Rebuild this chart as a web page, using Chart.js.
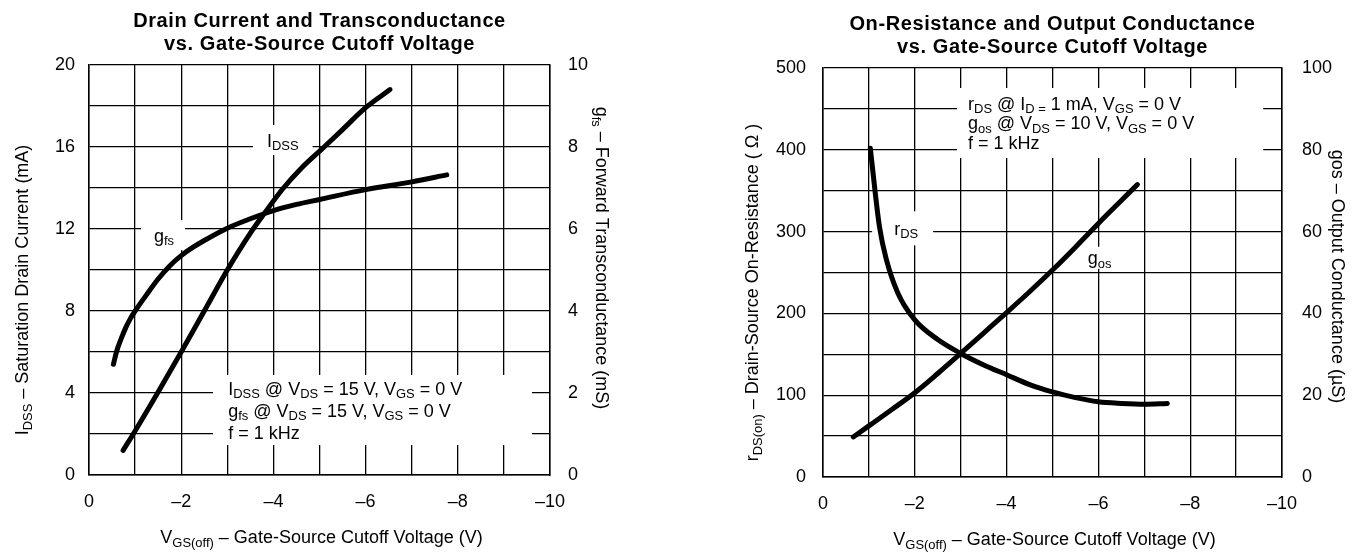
<!DOCTYPE html>
<html>
<head>
<meta charset="utf-8">
<script src="https://cdn.jsdelivr.net/npm/chart.js@4.4.1/dist/chart.umd.min.js"></script>
<style>
  body { margin: 0; background: #fff; }
  .wrap { position: absolute; top: 0; width: 680px; height: 552px; }
</style>
</head>
<body>
<div class="wrap" style="left:0"><canvas id="leftChart" width="680" height="552"></canvas></div>
<div class="wrap" style="left:680px"><canvas id="rightChart" width="680" height="552"></canvas></div>
<script>
// --- data ---
// left: saturation drain current (mA) and forward transconductance (mS)
const idssVolts = [-0.74, -1.0, -1.5, -2.0, -2.5, -3.0, -3.5, -3.8, -4.2, -4.6, -5.1, -5.5, -6.0, -6.53];
const idssMilliamps = [1.2, 2.15, 4.05, 6.0, 8.0, 10.0, 11.8, 12.75, 13.95, 14.95, 16.0, 16.85, 17.92, 18.8];
const gfsVolts = [-0.53, -0.6, -0.7, -0.8, -0.9, -1.0, -1.25, -1.5, -1.75, -2.0, -2.25, -2.5, -3.0, -3.5, -4.0, -4.5, -5.0, -6.0, -7.0, -7.76];
const gfsMillisiemens = [2.7, 3.02, 3.33, 3.6, 3.82, 4.0, 4.4, 4.78, 5.1, 5.35, 5.55, 5.72, 6.02, 6.25, 6.45, 6.6, 6.72, 6.96, 7.15, 7.32];

// right: on-resistance (ohm) and output conductance (uS)
const rdsVolts = [-1.03, -1.23, -1.38, -1.63, -2.0, -2.5, -3.0, -3.5, -4.0, -4.5, -5.0, -5.5, -6.0, -6.5, -7.0, -7.5];
const rdsOhms = [402, 306, 266, 225, 192, 168, 151, 137, 125, 113, 104, 97, 92, 90, 89, 90];
const gosVolts = [-0.66, -1.0, -1.5, -2.0, -2.5, -3.0, -3.5, -4.0, -4.5, -5.0, -5.5, -6.0, -6.5, -6.85];
const gosMicrosiemens = [9.8, 12.5, 16.5, 20.6, 25.3, 30.2, 35.2, 40.2, 45.3, 50.6, 56.2, 62.0, 67.6, 71.5];

// labelled ticks
const voltTicks = [0, -2, -4, -6, -8, -10];
const idssTicks = [0, 4, 8, 12, 16, 20];
const gfsTicks = [0, 2, 4, 6, 8, 10];
const rdsTicks = [0, 100, 200, 300, 400, 500];
const gosTicks = [0, 20, 40, 60, 80, 100];

const FONT = '"Liberation Sans", Arial, Helvetica, sans-serif';
const SIZE = 18;
Chart.defaults.font.family = FONT;
Chart.defaults.font.size = SIZE;
Chart.defaults.color = '#000';

// split "I_{DSS} @ V_{DS}" into [text, isSub] pieces
function pieces(str) {
  const out = [];
  str.split(/(_\{[^}]*\})/).forEach(p => {
    if (!p) return;
    if (p.startsWith('_{')) out.push([p.slice(2, -1), true]);
    else out.push([p, false]);
  });
  return out;
}

function richWidth(ctx, str, size, weight) {
  let w = 0;
  pieces(str).forEach(([t, sub]) => {
    ctx.font = `${weight || 'normal'} ${sub ? size * 0.72 : size}px ${FONT}`;
    w += ctx.measureText(t).width;
  });
  return w;
}

// y is the vertical middle of the line
function drawRich(ctx, str, x, y, size, align, weight) {
  const total = richWidth(ctx, str, size, weight);
  let cx = align === 'center' ? x - total / 2 : x;
  const base = y + size * 0.36;
  ctx.textAlign = 'left';
  ctx.textBaseline = 'alphabetic';
  pieces(str).forEach(([t, sub]) => {
    ctx.font = `${weight || 'normal'} ${sub ? size * 0.72 : size}px ${FONT}`;
    ctx.fillText(t, cx, sub ? base + size * 0.2 : base);
    cx += ctx.measureText(t).width;
  });
}

const sheetText = {
  id: 'sheetText',
  beforeDatasetsDraw(chart, args, opts) {
    const { ctx, scales } = chart;
    const xs = scales.x, ys = scales.y;
    ctx.save();
    // curve labels sit on white boxes that break the grid
    opts.labels.forEach(l => {
      const px = xs.getPixelForValue(l.x), py = ys.getPixelForValue(l.y);
      const w = richWidth(ctx, l.text, SIZE);
      ctx.fillStyle = '#fff';
      ctx.fillRect(px - l.padL, py - l.padY, w + l.padL + l.padR, l.padY * 2);
      ctx.fillStyle = '#000';
      drawRich(ctx, l.text, px, py, SIZE, 'left');
    });
    // conditions note
    const n = opts.note;
    const x0 = xs.getPixelForValue(n.x0), x1 = xs.getPixelForValue(n.x1);
    const y0 = ys.getPixelForValue(n.y0), y1 = ys.getPixelForValue(n.y1);
    ctx.fillStyle = '#fff';
    ctx.fillRect(x0, y0, x1 - x0, y1 - y0);
    ctx.fillStyle = '#000';
    const tx = xs.getPixelForValue(n.textX);
    const ty = ys.getPixelForValue(n.textY);
    n.lines.forEach((line, i) => drawRich(ctx, line, tx, ty + i * n.gap, SIZE, 'left'));
    ctx.restore();
  },
  afterDraw(chart, args, opts) {
    const { ctx, chartArea: a } = chart;
    const midX = (a.left + a.right) / 2;
    const midY = (a.top + a.bottom) / 2;
    ctx.save();
    ctx.fillStyle = '#000';
    // chart title
    if ('letterSpacing' in ctx) ctx.letterSpacing = '0.6px';
    opts.title.forEach((line, i) => drawRich(ctx, line, midX, a.top - 45 + i * 23, 20, 'center', 'bold'));
    if ('letterSpacing' in ctx) ctx.letterSpacing = '0px';
    // x title
    drawRich(ctx, opts.xTitle, midX + 2, a.bottom + 62, SIZE, 'center');
    // left y title
    ctx.save();
    ctx.translate(a.left + opts.yTitle.dx, midY + opts.yTitle.dy);
    ctx.rotate(-Math.PI / 2);
    drawRich(ctx, opts.yTitle.text, 0, 0, SIZE, 'center');
    ctx.restore();
    // right y title
    ctx.save();
    ctx.translate(a.right + opts.y2Title.dx, midY + opts.y2Title.dy);
    ctx.rotate(Math.PI / 2);
    drawRich(ctx, opts.y2Title.text, 0, 0, SIZE, 'center');
    ctx.restore();
    ctx.restore();
  },
};

function voltLabel(v) {
  if (!voltTicks.includes(v)) return '';
  return v === 0 ? '0' : '\u2013' + Math.abs(v);
}

function curve(label, xs, ys, axis) {
  return {
    label,
    data: xs.map((x, i) => ({ x, y: ys[i] })),
    yAxisID: axis,
    borderColor: '#000',
    borderWidth: 5,
    borderCapStyle: 'round',
    borderJoinStyle: 'round',
    pointRadius: 0,
    cubicInterpolationMode: 'monotone',
    fill: false,
  };
}

function makeChart(id, box, cfg) {
  const gridStyle = { color: '#000', lineWidth: 1.3, drawTicks: false };
  const borderStyle = { display: true, color: '#000', width: 1.5 };
  return new Chart(document.getElementById(id), {
    type: 'line',
    data: { datasets: cfg.datasets },
    options: {
      responsive: false,
      animation: false,
      events: [],
      layout: { padding: { top: box.top, left: 0, right: 0, bottom: 0 } },
      scales: {
        x: {
          type: 'linear',
          min: -10,
          max: 0,
          reverse: true,
          grid: gridStyle,
          border: borderStyle,
          ticks: { stepSize: 1, autoSkip: false, maxRotation: 0, padding: 16, callback: voltLabel },
          afterFit: s => { s.height = 552 - box.bottom; },
        },
        y: {
          position: 'left',
          min: 0,
          max: cfg.yMax,
          grid: gridStyle,
          border: borderStyle,
          ticks: { stepSize: cfg.yMax / 10, autoSkip: false, padding: box.padL,
            callback: v => (cfg.yTicks.includes(v) ? String(v) : '') },
          afterFit: s => { s.width = box.left; },
        },
        y2: {
          position: 'right',
          min: 0,
          max: cfg.y2Max,
          grid: { drawOnChartArea: false, drawTicks: false },
          border: borderStyle,
          ticks: { stepSize: cfg.y2Max / 10, autoSkip: false, padding: box.padR,
            callback: v => (cfg.y2Ticks.includes(v) ? String(v) : '') },
          afterFit: s => { s.width = 680 - box.right; },
        },
      },
      plugins: {
        legend: { display: false },
        tooltip: { enabled: false },
        sheetText: cfg.text,
      },
    },
    plugins: [sheetText],
  });
}

makeChart('leftChart', { top: 65, bottom: 475, left: 89, right: 550, padL: 14, padR: 18 }, {
  datasets: [
    curve('IDSS', idssVolts, idssMilliamps, 'y'),
    curve('gfs', gfsVolts, gfsMillisiemens, 'y2'),
  ],
  yMax: 20, yTicks: idssTicks,
  y2Max: 10, y2Ticks: gfsTicks,
  text: {
    title: ['Drain Current and Transconductance', 'vs. Gate-Source Cutoff Voltage'],
    xTitle: 'V_{GS(off)} \u2013 Gate-Source Cutoff Voltage (V)',
    yTitle: { text: 'I_{DSS} \u2013 Saturation Drain Current (mA)', dx: -67, dy: 20 },
    y2Title: { text: 'g_{fs} \u2013 Forward Transconductance (mS)', dx: 52, dy: -12 },
    labels: [
      { text: 'I_{DSS}', x: -3.86, y: 16.34, padL: 14, padR: 14, padY: 15 },
      { text: 'g_{fs}', x: -1.41, y: 11.7, padL: 13, padR: 11, padY: 15 },
    ],
    note: {
      x0: -2.69, x1: -9.61, y0: 4.88, y1: 1.46, textX: -3.02, textY: 4.24, gap: 22,
      lines: [
        'I_{DSS} @ V_{DS} = 15 V, V_{GS} = 0 V',
        'g_{fs} @ V_{DS} = 15 V, V_{GS} = 0 V',
        'f = 1 kHz',
      ],
    },
  },
});

makeChart('rightChart', { top: 68, bottom: 477, left: 143, right: 602, padL: 17, padR: 20 }, {
  datasets: [
    curve('rDS', rdsVolts, rdsOhms, 'y'),
    curve('gos', gosVolts, gosMicrosiemens, 'y2'),
  ],
  yMax: 500, yTicks: rdsTicks,
  y2Max: 100, y2Ticks: gosTicks,
  text: {
    title: ['On-Resistance and Output Conductance', 'vs. Gate-Source Cutoff Voltage'],
    xTitle: 'V_{GS(off)} \u2013 Gate-Source Cutoff Voltage (V)',
    yTitle: { text: 'r_{DS(on)} \u2013 Drain-Source On-Resistance ( \u03a9 )', dx: -71, dy: 20 },
    y2Title: { text: 'gos \u2013 Output Conductance (\u00b5S)', dx: 56, dy: 4 },
    labels: [
      { text: 'r_{DS}', x: -1.55, y: 304, padL: 22, padR: 15, padY: 17 },
      { text: 'g_{os}', x: -5.77, y: 268, padL: 8, padR: 8, padY: 11 },
    ],
    note: {
      x0: -2.92, x1: -9.59, y0: 475.6, y1: 390, textX: -3.16, textY: 457, gap: 19.5,
      lines: [
        'r_{DS} @ I_{D =} 1 mA, V_{GS} = 0 V',
        'g_{os} @ V_{DS} = 10 V, V_{GS} = 0 V',
        'f = 1 kHz',
      ],
    },
  },
});
</script>
</body>
</html>
